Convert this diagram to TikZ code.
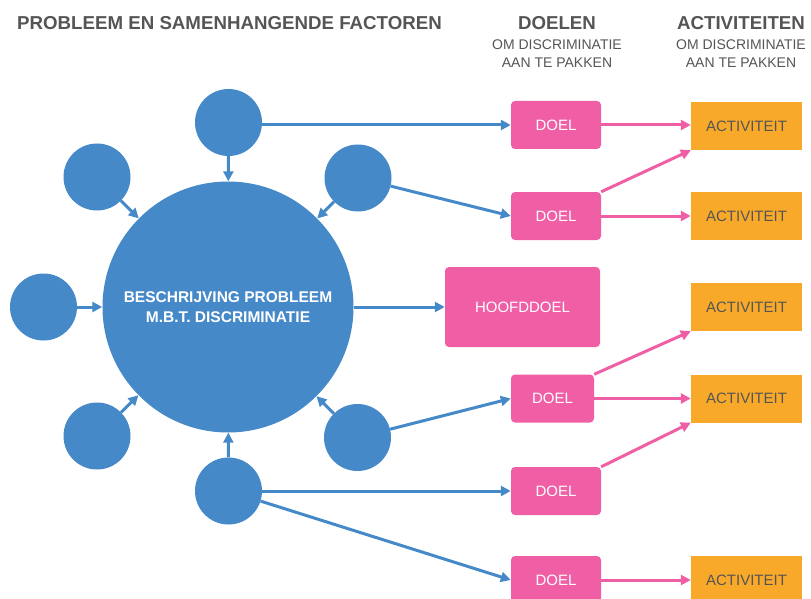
\documentclass[tikz,border=0pt]{standalone}
\usepackage{fontspec}
\setmainfont{Liberation Sans}
\usetikzlibrary{arrows.meta}
\definecolor{cblue}{HTML}{4589C8}
\definecolor{cpink}{HTML}{F05FA5}
\definecolor{corange}{HTML}{F9A929}
\definecolor{ctext}{HTML}{555555}
\tikzset{
  small/.style={circle,fill=cblue,minimum size=67pt,inner sep=0pt},
  big/.style={circle,fill=cblue,minimum size=251pt,inner sep=0pt,text=white,font=\bfseries\fontsize{15.5}{20}\selectfont,align=center},
  doel/.style={fill=cpink,rounded corners=4pt,minimum width=90pt,minimum height=48pt,inner sep=0pt,text=white,font=\fontsize{15}{18}\selectfont},
  act/.style={fill=corange,minimum width=111pt,minimum height=48pt,inner sep=0pt,text=ctext,font=\fontsize{15}{18}\selectfont},
  barrow/.style={draw=cblue,line width=3pt,-{Triangle[length=10pt,width=10pt]}},
  parrow/.style={draw=cpink,line width=3pt,-{Triangle[length=10pt,width=10pt]}},
  head/.style={text=ctext,font=\bfseries\fontsize{18.7}{22}\selectfont,inner sep=0pt},
  sub/.style={text=ctext,font=\fontsize{14}{18}\selectfont,inner sep=0pt,align=center},
}
\begin{document}
\begin{tikzpicture}[x=1pt,y=-1pt]
\useasboundingbox (0,0) rectangle (811,599);
\clip (0,0) rectangle (811,599);
% headers
\node[head,anchor=west] (h1) at (17,23) {PROBLEEM EN SAMENHANGENDE FACTOREN};
\node[head] (h2) at (557,23) {DOELEN};
\node[sub] (s2) at (557,54) {OM DISCRIMINATIE\\AAN TE PAKKEN};
\node[head] (h3) at (741,23) {ACTIVITEITEN};
\node[sub] (s3) at (741,54) {OM DISCRIMINATIE\\AAN TE PAKKEN};
% circles
\node[big] (bg) at (228,307) {BESCHRIJVING PROBLEEM\\M.B.T. DISCRIMINATIE};
\node[small] (tp) at (228.5,122.5) {};
\node[small] (ul) at (97,177) {};
\node[small] (ur) at (358,178) {};
\node[small] (lf) at (43.5,307) {};
\node[small] (ll) at (97,436) {};
\node[small] (lr) at (357.5,437.5) {};
\node[small] (bt) at (228.5,491) {};
% doel boxes
\node[doel] (d1) at (556,125) {DOEL};
\node[doel] (d2) at (556,216) {DOEL};
\node[doel,minimum width=83pt] (d3) at (552.5,398.5) {DOEL};
\node[doel] (d4) at (556,491) {DOEL};
\node[doel] (d5) at (556,580) {DOEL};
\node[doel,minimum width=155pt,minimum height=80pt] (hd) at (522.5,307) {HOOFDDOEL};
% activity boxes
\node[act] (a1) at (746.5,126) {ACTIVITEIT};
\node[act] (a2) at (746.5,216) {ACTIVITEIT};
\node[act] (a3) at (746.5,307) {ACTIVITEIT};
\node[act] (a4) at (746.5,398.5) {ACTIVITEIT};
\node[act] (a5) at (746.5,580) {ACTIVITEIT};
% blue arrows into big circle
\draw[barrow] (tp) -- (bg);
\draw[barrow] (ul) -- (bg);
\draw[barrow] (ur) -- (bg);
\draw[barrow] (lf) -- (bg);
\draw[barrow] (ll) -- (bg);
\draw[barrow] (lr) -- (bg);
\draw[barrow] (bt) -- (bg);
% blue arrows to goals
\draw[barrow] (tp.east |- d1.west) -- (d1.west);
\draw[barrow] (ur) -- (d2.west);
\draw[barrow] (bg) -- (hd.west);
\draw[barrow] (lr) -- (d3.west);
\draw[barrow] (bt.east |- d4.west) -- (d4.west);
\draw[barrow] (bt) -- (d5.west);
% pink arrows
\draw[parrow] (d1.east) -- (a1.west|-d1.east);
\draw[parrow] (d2.north east) -- (a1.south west);
\draw[parrow] (d2.east) -- (a2.west);
\draw[parrow] (d3.north east) -- (a3.south west);
\draw[parrow] (d3.east) -- (a4.west);
\draw[parrow] (d4.north east) -- (a4.south west);
\draw[parrow] (d5.east) -- (a5.west);
\end{tikzpicture}
\end{document}
